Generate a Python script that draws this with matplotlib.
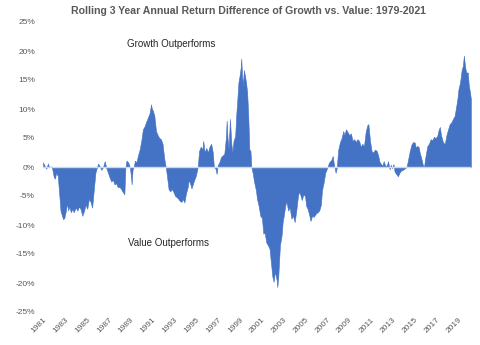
import matplotlib
matplotlib.use("Agg")
import matplotlib.pyplot as plt
import numpy as np

plt.rcParams['font.family'] = ['Liberation Sans', 'DejaVu Sans']

# Decimal year of each observation (end of rolling 3-year window)
years = [
    1981.00, 1981.15, 1981.30, 1981.45, 1981.55, 1981.80, 1982.00, 1982.10, 1982.20, 1982.35,
    1982.50, 1982.60, 1982.75, 1982.85, 1982.95, 1983.10, 1983.20, 1983.30, 1983.40, 1983.55,
    1983.70, 1983.80, 1984.00, 1984.15, 1984.30, 1984.45, 1984.60, 1984.75, 1984.90, 1985.05,
    1985.20, 1985.35, 1985.50, 1985.65, 1985.80, 1985.95, 1986.05, 1986.20, 1986.35, 1986.50,
    1986.65, 1986.80, 1986.95, 1987.10, 1987.25, 1987.40, 1987.55, 1987.70, 1987.85, 1988.00,
    1988.15, 1988.30, 1988.45, 1988.55, 1988.65, 1988.80, 1988.95, 1989.05, 1989.12, 1989.20,
    1989.30, 1989.42, 1989.55, 1989.70, 1989.85, 1990.00, 1990.15, 1990.30, 1990.45, 1990.60,
    1990.75, 1990.90, 1990.97, 1991.05, 1991.20, 1991.35, 1991.50, 1991.65, 1991.80, 1991.95,
    1992.10, 1992.24, 1992.35, 1992.50, 1992.65, 1992.80, 1992.95, 1993.10, 1993.25, 1993.40,
    1993.55, 1993.70, 1993.80, 1993.95, 1994.10, 1994.25, 1994.35, 1994.50, 1994.60, 1994.80,
    1995.00, 1995.17, 1995.30, 1995.45, 1995.60, 1995.68, 1995.80, 1995.95, 1996.10, 1996.25,
    1996.40, 1996.55, 1996.65, 1996.80, 1996.90, 1997.00, 1997.15, 1997.30, 1997.45, 1997.60,
    1997.75, 1997.82, 1997.90, 1998.00, 1998.12, 1998.25, 1998.35, 1998.45, 1998.60, 1998.70,
    1998.80, 1998.90, 1999.00, 1999.10, 1999.16, 1999.22, 1999.30, 1999.40, 1999.50, 1999.60,
    1999.70, 1999.80, 1999.90, 2000.00, 2000.08, 2000.20, 2000.35, 2000.50, 2000.60, 2000.75,
    2000.90, 2001.05, 2001.18, 2001.30, 2001.45, 2001.60, 2001.75, 2001.85, 2002.00, 2002.12,
    2002.25, 2002.40, 2002.46, 2002.55, 2002.70, 2002.85, 2002.95, 2003.05, 2003.20, 2003.30,
    2003.45, 2003.60, 2003.75, 2003.90, 2004.05, 2004.20, 2004.35, 2004.45, 2004.60, 2004.70,
    2004.85, 2005.00, 2005.10, 2005.25, 2005.40, 2005.50, 2005.65, 2005.80, 2006.00, 2006.15,
    2006.30, 2006.45, 2006.55, 2006.70, 2006.85, 2007.00, 2007.20, 2007.40, 2007.53, 2007.65,
    2007.80, 2007.90, 2008.04, 2008.20, 2008.35, 2008.50, 2008.60, 2008.75, 2008.90, 2009.05,
    2009.20, 2009.35, 2009.50, 2009.65, 2009.80, 2009.95, 2010.10, 2010.25, 2010.40, 2010.55,
    2010.70, 2010.80, 2010.95, 2011.10, 2011.25, 2011.40, 2011.55, 2011.70, 2011.80, 2011.95,
    2012.10, 2012.20, 2012.35, 2012.50, 2012.60, 2012.75, 2012.85, 2012.95, 2013.10, 2013.20,
    2013.35, 2013.50, 2013.65, 2013.80, 2013.95, 2014.10, 2014.30, 2014.45, 2014.60, 2014.75,
    2014.90, 2015.05, 2015.15, 2015.25, 2015.40, 2015.50, 2015.65, 2015.80, 2015.90, 2016.00,
    2016.20, 2016.35, 2016.50, 2016.65, 2016.80, 2016.95, 2017.10, 2017.25, 2017.35, 2017.45,
    2017.65, 2017.80, 2017.95, 2018.10, 2018.25, 2018.40, 2018.55, 2018.70, 2018.85, 2018.95,
    2019.05, 2019.20, 2019.35, 2019.45, 2019.55, 2019.65, 2019.75, 2019.90, 2020.00, 2020.10,
    2020.19,
]

# Growth minus Value rolling 3-year annualized return, in %
diff_pct = [
    0.8, 0.2, -0.3, 0.6, 0.0, 0.1, -1.8, -2.0, -1.0, -1.5,
    -5.0, -7.5, -8.5, -9.0, -8.8, -7.5, -6.2, -7.5, -6.8, -7.8,
    -7.2, -7.8, -7.0, -7.5, -6.8, -7.3, -8.4, -7.6, -6.5, -7.2,
    -5.5, -6.0, -7.0, -4.0, -1.0, 0.0, 0.6, 0.1, -0.5, 0.0,
    1.0, -0.2, -1.0, -1.8, -2.5, -2.2, -3.0, -2.8, -3.5, -3.4,
    -3.8, -4.3, -4.7, 0.0, 1.1, 0.8, 0.0, -1.5, -3.0, -0.5,
    0.0, 1.1, 0.8, 2.0, 3.0, 4.5, 6.5, 7.0, 7.8, 8.5,
    9.2, 10.8, 10.0, 9.8, 8.8, 6.2, 5.5, 5.0, 4.8, 4.0,
    1.5, 0.0, -1.5, -3.8, -4.2, -3.8, -4.3, -5.0, -5.2, -5.5,
    -5.9, -6.0, -5.5, -6.1, -4.5, -3.5, -2.2, -3.0, -3.7, -2.5,
    -1.5, 0.0, 2.8, 3.5, 3.0, 4.5, 2.5, 3.3, 2.5, 3.5,
    4.0, 2.5, 0.0, -0.3, -1.2, 0.3, 0.8, 1.7, 2.0, 2.2,
    5.0, 8.0, 5.0, 3.2, 8.3, 4.0, 2.5, 4.5, 5.3, 9.0,
    11.7, 14.6, 15.7, 17.0, 18.7, 16.0, 14.0, 16.7, 15.7, 14.5,
    12.8, 8.8, 3.0, 2.8, 0.0, -1.0, -2.7, -4.0, -5.5, -6.7,
    -8.4, -8.8, -11.5, -11.3, -13.0, -13.5, -14.1, -16.0, -18.8, -19.8,
    -18.0, -19.5, -20.7, -18.8, -13.5, -11.8, -9.5, -8.4, -6.5, -6.0,
    -7.5, -7.0, -8.9, -8.4, -9.5, -7.5, -5.0, -4.2, -5.0, -5.7,
    -4.7, -5.0, -6.7, -7.3, -8.4, -9.3, -8.4, -8.6, -8.0, -7.8,
    -7.5, -6.5, -4.0, -2.7, -1.0, -0.3, 0.8, 1.2, 1.9, 0.4,
    -1.0, -0.2, 3.0, 4.3, 5.0, 6.2, 5.5, 6.5, 6.0, 5.5,
    5.8, 4.5, 4.8, 4.3, 4.8, 4.5, 3.5, 4.0, 3.6, 6.0,
    7.2, 7.4, 4.5, 2.7, 2.5, 3.0, 2.8, 2.0, 1.0, 0.5,
    0.3, 1.0, 0.2, 0.3, 1.0, -0.4, 0.4, -0.2, 0.5, -0.8,
    -1.2, -1.6, -1.0, -0.6, -0.5, -0.3, 0.0, 1.4, 2.8, 3.9,
    4.3, 4.2, 3.3, 3.6, 3.5, 2.5, 1.5, 0.3, 0.0, 1.5,
    3.6, 4.0, 4.8, 4.6, 5.2, 5.0, 5.3, 6.5, 6.9, 5.5,
    4.2, 4.0, 5.5, 6.5, 7.4, 7.7, 8.3, 8.8, 10.5, 11.7,
    13.4, 14.6, 16.8, 17.4, 19.2, 17.4, 16.3, 16.3, 14.0, 13.0,
    11.7,
]

tick_years = list(range(1981, 2020, 2))
y_ticks = list(range(-25, 30, 5))

title = "Rolling 3 Year Annual Return Difference of Growth vs. Value: 1979-2021"

fig = plt.figure(figsize=(4.8, 3.45), dpi=100)
ax = fig.add_axes([43 / 480, 1 - 312 / 345, (471 - 43) / 480, (312 - 22) / 345])

x = np.array(years)
y = np.array(diff_pct)
ax.fill_between(x, 0, y, color='#4472C4', linewidth=0.4, edgecolor='#4472C4', zorder=2)
ax.axhline(0, color='#D0D8E8', linewidth=1.0, zorder=3)

ax.set_xlim(1981.0, 2020.2)
ax.set_ylim(-25, 25)

ax.set_yticks(y_ticks)
ax.set_yticklabels([f"{v}%" for v in y_ticks])
ax.set_xticks(tick_years)
ax.set_xticklabels([str(v) for v in tick_years], rotation=45, ha='right',
                   rotation_mode='anchor')

ax.tick_params(axis='both', length=0, labelsize=6, labelcolor='#595959')
ax.tick_params(axis='y', pad=5.8)
ax.tick_params(axis='x', pad=3)
for s in ax.spines.values():
    s.set_visible(False)

fig.text(248 / 480, 1 - 11 / 345, title, ha='center', va='center',
         fontsize=7.6, fontweight='bold', color='#595959')

ax.text(1988.7, 21.2, "Growth Outperforms", fontsize=7, color='#262626',
        ha='left', va='center')
ax.text(1988.8, -13.1, "Value Outperforms", fontsize=7, color='#262626',
        ha='left', va='center')

fig.savefig("out.png", dpi=100)
